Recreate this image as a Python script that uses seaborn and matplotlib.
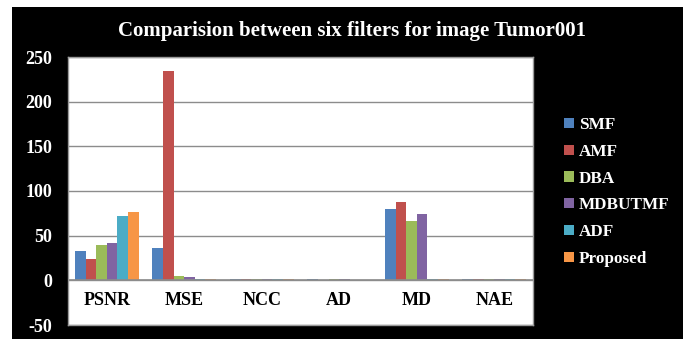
import matplotlib
matplotlib.use("Agg")
import matplotlib.pyplot as plt
from matplotlib.patches import Rectangle
import seaborn as sns
import pandas as pd

metrics = ["PSNR", "MSE", "NCC", "AD", "MD", "NAE"]
filters = ["SMF", "AMF", "DBA", "MDBUTMF", "ADF", "Proposed"]

smf = [32.4, 36.2, 1.5, 1.5, 79.9, 1.5]
amf = [24.3, 234.6, 1.5, 0.0, 87.2, 1.5]
dba = [39.9, 5.3, 1.5, 1.5, 66.4, 1.5]
mdbutmf = [41.8, 3.8, 1.5, 1.5, 74.6, 1.5]
adf = [71.6, 1.5, 1.5, 0.0, 1.5, 1.5]
proposed = [76.5, 1.5, 1.5, 0.0, 1.5, 1.5]

colors = ["#4F81BD", "#C0504D", "#9BBB59", "#8064A2", "#4BACC6", "#F79646"]

series = [smf, amf, dba, mdbutmf, adf, proposed]
df = pd.DataFrame(
    [(m, f, v) for f, vals in zip(filters, series) for m, v in zip(metrics, vals)],
    columns=["Metric", "Filter", "Value"],
)

sns.set_theme(style="white")
serif = ["Liberation Serif", "DejaVu Serif"]
plt.rcParams["font.family"] = serif
plt.rcParams["axes.unicode_minus"] = False

fig = plt.figure(figsize=(6.83, 3.39), dpi=100, facecolor="white")
fig.patches.append(Rectangle((12 / 683, 0), 1, 1 - 7 / 339, transform=fig.transFigure,
                             facecolor="black", edgecolor="none", zorder=-10))

ax = fig.add_axes([68 / 683, 1 - 325 / 339, (533 - 68) / 683, (325 - 57) / 339])
sns.barplot(data=df, x="Metric", y="Value", hue="Filter", order=metrics,
            hue_order=filters, palette=colors, width=0.82, saturation=1,
            edgecolor="none", linewidth=0, ax=ax, legend=True)

ax.set_ylim(-50, 250)
ax.set_yticks([-50, 0, 50, 100, 150, 200, 250])
ax.set_xlim(-0.5, len(metrics) - 0.5)
ax.yaxis.grid(True, color="#8c8c8c", linewidth=1.0)
ax.set_axisbelow(True)
ax.axhline(0, color="#8c8c8c", linewidth=1.2, zorder=1)
ax.set_facecolor("white")
for side in ["top", "right", "left", "bottom"]:
    ax.spines[side].set_visible(True)
    ax.spines[side].set_color("#9a9a9a")
    ax.spines[side].set_linewidth(1.0)

ax.set_xlabel("")
ax.set_ylabel("")
ax.tick_params(axis="y", length=0, pad=11.5, labelcolor="white", labelsize=13)
ax.tick_params(axis="x", length=0, pad=-24, labelcolor="black", labelsize=13)
ax.set_xticks(range(len(metrics)))
ax.set_xticklabels(metrics)
for lbl in ax.get_yticklabels() + ax.get_xticklabels():
    lbl.set_fontweight("bold")

handles, _ = ax.get_legend_handles_labels()
leg = ax.legend(handles, filters, loc="center left",
                bbox_to_anchor=(549 / 683, 1 - 192 / 339), bbox_transform=fig.transFigure,
                frameon=False, handlelength=0.55, handleheight=0.55, handletextpad=0.3,
                labelspacing=0.63, prop={"family": serif, "weight": "bold", "size": 12.3})
for t in leg.get_texts():
    t.set_color("white")

fig.text(352 / 683, 1 - 31 / 339, "Comparision between six filters for image Tumor001",
         ha="center", va="center", color="white", fontsize=15, fontweight="bold",
         family=serif)

fig.savefig("out.png", dpi=100, facecolor=fig.get_facecolor())
